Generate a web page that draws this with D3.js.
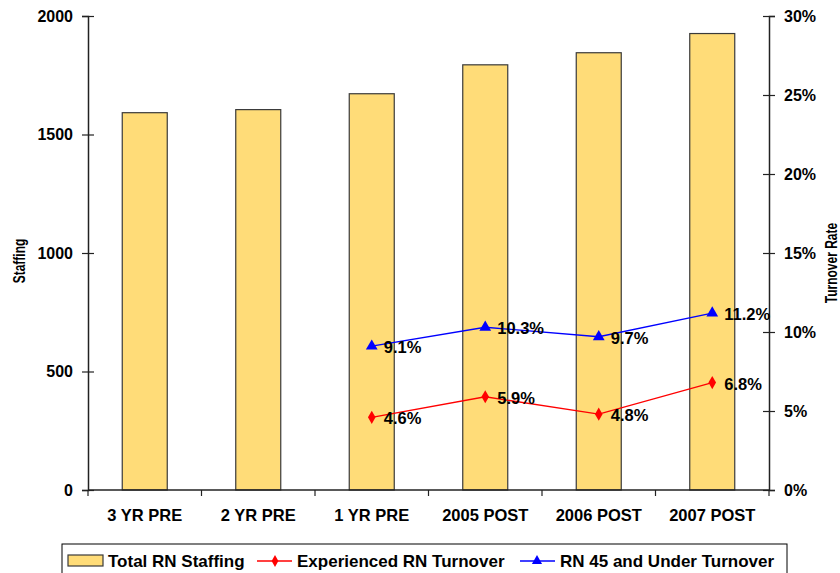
<!DOCTYPE html>
<html>
<head>
<meta charset="utf-8">
<script src="https://cdn.jsdelivr.net/npm/d3@7"></script>
<style>
  body { margin: 0; background: #fff; }
  svg { display: block; font-family: Arial, "Liberation Sans", sans-serif; }
</style>
</head>
<body>
<svg id="chart" width="840" height="573"></svg>
<script>
// RN staffing totals and turnover rates by period
const categories = ["3 YR PRE", "2 YR PRE", "1 YR PRE", "2005 POST", "2006 POST", "2007 POST"];
const staffing = [1592, 1605, 1672, 1794, 1845, 1926];
const experiencedTurnover = [null, null, 4.6, 5.9, 4.8, 6.8];
const under45Turnover = [null, null, 9.1, 10.3, 9.7, 11.2];
const staffingTicks = [0, 500, 1000, 1500, 2000];
const rateTicks = [0, 5, 10, 15, 20, 25, 30];
const legendLabels = ["Total RN Staffing", "Experienced RN Turnover", "RN 45 and Under Turnover"];

const svg = d3.select("#chart");
const plotLeft = 88, plotRight = 769, plotTop = 16, plotBottom = 490;

const xBand = d3.scaleBand().domain(categories).range([plotLeft, plotRight]);
const yL = d3.scaleLinear().domain([0, 2000]).range([plotBottom, plotTop]);
const yR = d3.scaleLinear().domain([0, 30]).range([plotBottom, plotTop]);

const barFill = "#FFDC78", barStroke = "#3a3a3a";
const barWidth = 45;

// bars
svg.append("g").selectAll("rect").data(staffing).join("rect")
  .attr("x", (d, i) => xBand(categories[i]) + (xBand.bandwidth() - barWidth) / 2)
  .attr("width", barWidth)
  .attr("y", d => yL(d))
  .attr("height", d => yL(0) - yL(d))
  .attr("fill", barFill)
  .attr("stroke", barStroke)
  .attr("stroke-width", 1.2);

// axes
const axisColor = "#222";
const gL = svg.append("g").attr("transform", `translate(${plotLeft},0)`)
  .call(d3.axisLeft(yL).tickValues(staffingTicks).tickSize(6).tickPadding(9).tickFormat(d3.format("d")));
gL.selectAll(".tick line").attr("x2", 6).attr("x1", -6);
const gR = svg.append("g").attr("transform", `translate(${plotRight},0)`)
  .call(d3.axisRight(yR).tickValues(rateTicks).tickSize(6).tickPadding(9).tickFormat(d => d + "%"));
gR.selectAll(".tick line").attr("x1", -6).attr("x2", 6);
const gX = svg.append("g").attr("transform", `translate(0,${plotBottom})`)
  .call(d3.axisBottom(xBand).tickSize(0).tickPadding(19));
// category boundary ticks
svg.append("g").selectAll("line")
  .data(categories.map(c => xBand(c)).concat([plotRight]))
  .join("line")
  .attr("x1", d => d).attr("x2", d => d)
  .attr("y1", plotBottom).attr("y2", plotBottom + 6)
  .attr("stroke", axisColor).attr("stroke-width", 1.2);

[gL, gR, gX].forEach(g => {
  g.select(".domain").attr("stroke", axisColor).attr("stroke-width", 1.5);
  g.selectAll(".tick line").attr("stroke", axisColor).attr("stroke-width", 1.2);
  g.selectAll("text").attr("font-size", 16).attr("font-weight", "bold").attr("fill", "#000")
    .attr("font-family", "Arial, 'Liberation Sans', sans-serif");
});
gX.selectAll("text").attr("font-size", 16.5);
gX.select(".domain").attr("d", `M${plotLeft},0H${plotRight}`);

// axis titles (glyphs drawn slightly taller than wide)
svg.append("text").attr("transform", "translate(25,261) rotate(-90) scale(1,1.3)")
  .attr("text-anchor", "middle").attr("font-size", 12).attr("font-weight", "bold").text("Staffing");
svg.append("text").attr("transform", "translate(837,263) rotate(-90) scale(1,1.3)")
  .attr("text-anchor", "middle").attr("font-size", 12).attr("font-weight", "bold").text("Turnover Rate");

// turnover lines
const cx = c => xBand(c) + xBand.bandwidth() / 2;
function drawSeries(values, color, symbolType, symbolSize) {
  const pts = values.map((v, i) => ({ c: categories[i], v })).filter(d => d.v != null);
  svg.append("path").datum(pts)
    .attr("fill", "none").attr("stroke", color).attr("stroke-width", 1.3)
    .attr("d", d3.line().x(d => cx(d.c)).y(d => yR(d.v)));
  svg.append("g").selectAll("path").data(pts).join("path")
    .attr("transform", d => `translate(${cx(d.c)},${yR(d.v)})`)
    .attr("d", d3.symbol().type(symbolType).size(symbolSize))
    .attr("fill", color);
  svg.append("g").selectAll("text").data(pts).join("text")
    .attr("x", d => cx(d.c) + 12).attr("y", d => yR(d.v) + 7)
    .attr("font-size", 16.5).attr("font-weight", "bold").attr("fill", "#000")
    .text(d => d.v.toFixed(1) + "%");
}
drawSeries(experiencedTurnover, "#FF0000", d3.symbolDiamond, 50);
drawSeries(under45Turnover, "#0000FF", d3.symbolTriangle, 60);

// legend
const lg = svg.append("g");
lg.append("rect").attr("x", 62).attr("y", 544).attr("width", 725).attr("height", 34)
  .attr("fill", "#fff").attr("stroke", "#000").attr("stroke-width", 1);
lg.append("rect").attr("x", 68).attr("y", 555).attr("width", 35).attr("height", 11)
  .attr("fill", barFill).attr("stroke", barStroke).attr("stroke-width", 1.2);
lg.append("text").attr("x", 108).attr("y", 566.5).text(legendLabels[0]);
lg.append("line").attr("x1", 257).attr("x2", 292).attr("y1", 561).attr("y2", 561)
  .attr("stroke", "#FF0000").attr("stroke-width", 1.3);
lg.append("path").attr("transform", "translate(275,561)")
  .attr("d", d3.symbol().type(d3.symbolDiamond).size(40)).attr("fill", "#FF0000");
lg.append("text").attr("x", 297).attr("y", 566.5).text(legendLabels[1]);
lg.append("line").attr("x1", 520).attr("x2", 555).attr("y1", 561).attr("y2", 561)
  .attr("stroke", "#0000FF").attr("stroke-width", 1.3);
lg.append("path").attr("transform", "translate(537,561)")
  .attr("d", d3.symbol().type(d3.symbolTriangle).size(45)).attr("fill", "#0000FF");
lg.append("text").attr("x", 560).attr("y", 566.5).text(legendLabels[2]);
lg.selectAll("text").attr("font-size", 17).attr("font-weight", "bold").attr("fill", "#000");
</script>
</body>
</html>
